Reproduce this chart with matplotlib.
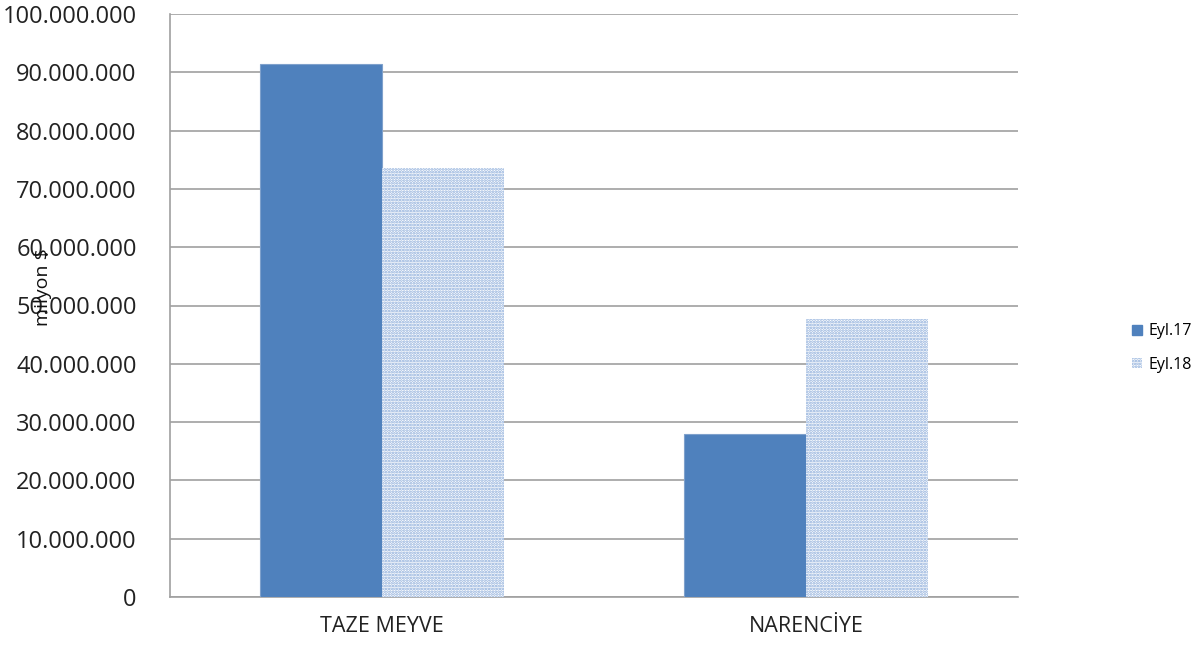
import matplotlib
matplotlib.use("Agg")
import matplotlib.pyplot as plt
import numpy as np
from matplotlib.ticker import FuncFormatter
from matplotlib.patches import Patch

categories = ["TAZE MEYVE", "NARENCİYE"]
series_names = ["Eyl.17", "Eyl.18"]
eyl17 = [91400000, 28000000]
eyl18 = [73600000, 47700000]

plt.rcParams['font.family'] = ['Open Sans', 'DejaVu Sans']
plt.rcParams['hatch.linewidth'] = 1.3

fig = plt.figure(figsize=(12.01, 6.49), dpi=100)
ax = fig.add_axes([170/1201, 52/649, 848/1201, 583/649])

x = np.arange(len(categories))
w = 0.2877
ax.bar(x - w/2, eyl17, w, color='#4F81BD', edgecolor='#7FA1CC', linewidth=0.8, zorder=3)
ax.bar(x + w/2, eyl18, w, color='white', edgecolor='#86A8D8', hatch='......', linewidth=0, zorder=3)

ax.set_xlim(-0.5, 1.5)
ax.set_ylim(0, 100000000)
ax.set_yticks(np.arange(0, 100000001, 10000000))
ax.yaxis.set_major_formatter(FuncFormatter(lambda v, p: f"{int(v):,}".replace(",", ".")))
ax.set_xticks(x)
ax.set_xticklabels(categories)
ax.tick_params(axis='y', labelsize=17, length=0, pad=24, colors='#222222')
ax.tick_params(axis='x', labelsize=15.5, length=0, pad=14, colors='#222222')
ax.grid(axis='y', color='#A0A0A0', linewidth=1.2, zorder=0)
for s in ['top', 'right']:
    ax.spines[s].set_visible(False)
for s in ['left', 'bottom']:
    ax.spines[s].set_color('#A0A0A0')
    ax.spines[s].set_linewidth(1.2)

fig.text(43/1201, 1 - 287/649, "milyon $", rotation=90, ha='center', va='center', fontsize=14,
         color='#111111', zorder=10)

handles = [Patch(facecolor='#4F81BD', edgecolor='#4F81BD'),
           Patch(facecolor='white', edgecolor='#86A8D8', hatch='......', linewidth=0)]
fig.legend(handles, series_names, loc='center left', bbox_to_anchor=(1118/1201, 1 - 348/649),
           frameon=False, fontsize=11.5, handlelength=0.6, handleheight=0.6, handletextpad=0.4,
           labelspacing=1.1)

fig.savefig("out.png", dpi=100)
